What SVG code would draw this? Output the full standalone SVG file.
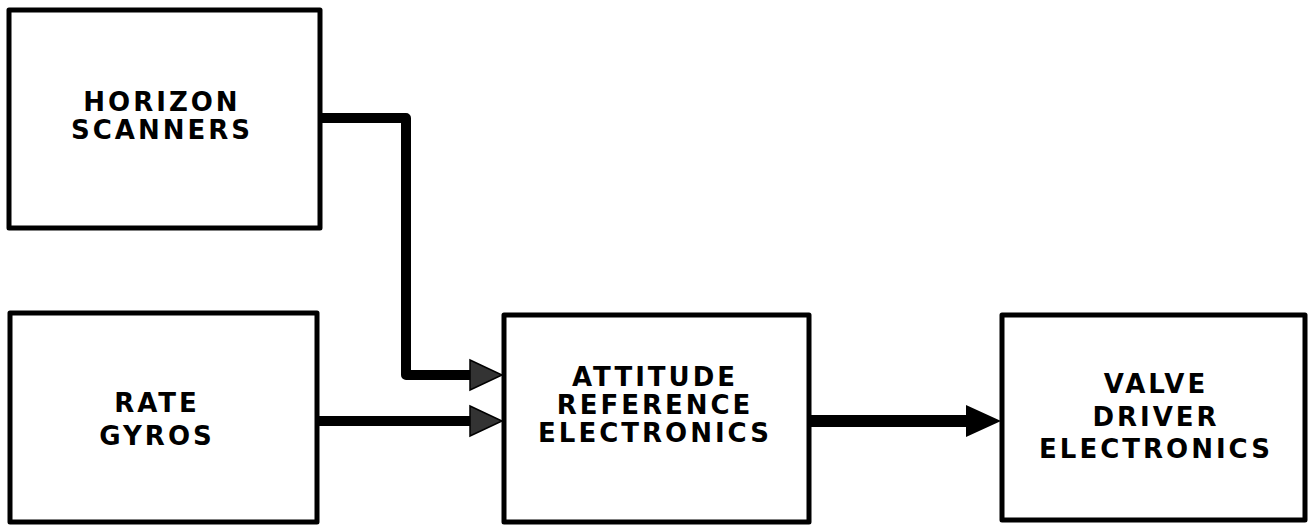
<svg xmlns="http://www.w3.org/2000/svg" width="1309" height="529" viewBox="0 0 1309 529">
<style>
.box{fill:#fff;stroke:#000;stroke-width:5;stroke-linejoin:round}
.lbl{font-family:"DejaVu Sans","Liberation Sans",sans-serif;font-weight:bold;font-size:26px;fill:#000;text-anchor:middle;letter-spacing:3px}
.wire{fill:none;stroke:#000;stroke-width:10;stroke-linejoin:round}
.head{fill:#333;stroke:#000;stroke-width:1.5}
.headS{fill:#000}
</style>
<rect width="1309" height="529" fill="#fff"/>
<g id="connectors">
<path class="wire" d="M320 118 H406 V375 H472"/>
<path class="wire" d="M318 421 H472"/>
<path class="wire" style="stroke-width:12" d="M810 421 H970"/>
<polygon class="head" points="470,360 502,375 470,390"/>
<polygon class="head" points="470,406 502,421 470,436"/>
<polygon class="headS" points="966,405 1001,421 966,437"/>
</g>
<g id="horizon-scanners">
<rect class="box" x="9" y="10" width="311" height="218"/>
<text class="lbl" x="162" y="111">HORIZON</text>
<text class="lbl" x="162" y="139">SCANNERS</text>
</g>
<g id="rate-gyros">
<rect class="box" x="10" y="313" width="307" height="209"/>
<text class="lbl" x="157" y="412">RATE</text>
<text class="lbl" x="157" y="445">GYROS</text>
</g>
<g id="attitude-reference-electronics">
<rect class="box" x="504" y="315" width="305" height="207"/>
<text class="lbl" x="655" y="386">ATTITUDE</text>
<text class="lbl" x="655" y="414">REFERENCE</text>
<text class="lbl" x="655" y="442">ELECTRONICS</text>
</g>
<g id="valve-driver-electronics">
<rect class="box" x="1002" y="315" width="303" height="205"/>
<text class="lbl" x="1156" y="393">VALVE</text>
<text class="lbl" x="1156" y="426">DRIVER</text>
<text class="lbl" x="1156" y="458">ELECTRONICS</text>
</g>
</svg>
